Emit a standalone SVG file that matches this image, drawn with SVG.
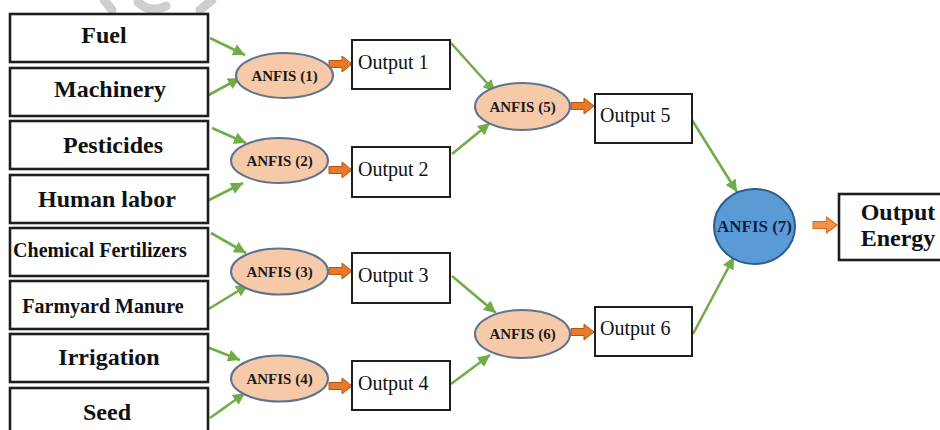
<svg xmlns="http://www.w3.org/2000/svg" width="940" height="430" viewBox="0 0 940 430">
<style>
.in{fill:#fff;stroke:#1e1e1e;stroke-width:2.6}
.ob{fill:#fff;stroke:#1e1e1e;stroke-width:2}
.big{font-family:"Liberation Serif",serif;font-weight:bold;font-size:24px;fill:#111;text-anchor:middle}
.mid{font-family:"Liberation Serif",serif;font-weight:bold;font-size:20px;fill:#111;text-anchor:middle}
.otx{font-family:"Liberation Serif",serif;font-size:20px;fill:#111}
.an{fill:#f6c9a8;stroke:#5d7391;stroke-width:2}
.anl{font-family:"Liberation Serif",serif;font-weight:bold;font-size:15px;fill:#1a1a1a;text-anchor:middle}
.g{stroke:#70ad47;stroke-width:2.6;fill:none;marker-end:url(#ga)}
.oa{fill:#e8782a;stroke:#b4540e;stroke-width:1}
.oa2{fill:#f0924a;stroke:#d86a1c;stroke-width:1}
.wm{fill:none;stroke:#cfcfcf;stroke-width:9;stroke-linecap:round}
</style>
<defs>
<marker id="ga" markerUnits="userSpaceOnUse" markerWidth="14" markerHeight="12" refX="12" refY="6" orient="auto">
<path d="M0,0 L12,6 L0,12 Z" fill="#70ad47"/>
</marker>
<path id="blk" d="M0,-3.5 H13 V-8 L23,0 L13,8 V3.5 H0 Z"/>
</defs>
<rect width="940" height="430" fill="#fff"/>
<g id="watermark">
<path class="wm" d="M104,0 L112,10"/>
<path class="wm" d="M138,2 Q150,14 166,6"/>
<path class="wm" d="M200,10 L212,0"/>
</g>
<g id="connectors">
<path class="g" d="M210,38 L245,55"/>
<path class="g" d="M205,97 L240,78"/>
<path class="g" d="M212,128 L246,143"/>
<path class="g" d="M207,201 L243,183"/>
<path class="g" d="M211,233 L246,253"/>
<path class="g" d="M207,310 L248,285"/>
<path class="g" d="M207,347 L240,360"/>
<path class="g" d="M210,418 L245,393"/>
<path class="g" d="M451,43 L495,92"/>
<path class="g" d="M452,154 L490,123"/>
<path class="g" d="M452,276 L496,313"/>
<path class="g" d="M451,384 L490,355"/>
<path class="g" d="M692,120 L737,192"/>
<path class="g" d="M693,334 L734,257"/>
<use href="#blk" class="oa" transform="translate(329,64)"/>
<use href="#blk" class="oa" transform="translate(329,170)"/>
<use href="#blk" class="oa" transform="translate(329,271)"/>
<use href="#blk" class="oa" transform="translate(329,386)"/>
<use href="#blk" class="oa" transform="translate(571,106)"/>
<use href="#blk" class="oa" transform="translate(571,332)"/>
<use href="#blk" class="oa2" transform="translate(813,225) scale(1.05,1)"/>
</g>
<g id="fuel"><rect class="in" x="10" y="14" width="198" height="48"/><text class="big" x="104" y="43">Fuel</text></g>
<g id="machinery"><rect class="in" x="10" y="68" width="198" height="48"/><text class="big" x="110" y="97">Machinery</text></g>
<g id="pesticides"><rect class="in" x="10" y="121" width="198" height="48"/><text class="big" x="113" y="153">Pesticides</text></g>
<g id="human-labor"><rect class="in" x="10" y="175" width="198" height="48"/><text class="big" x="107" y="207">Human labor</text></g>
<g id="chemical-fertilizers"><rect class="in" x="10" y="228" width="198" height="48"/><text class="mid" x="100" y="257">Chemical Fertilizers</text></g>
<g id="farmyard-manure"><rect class="in" x="10" y="281" width="198" height="48"/><text class="mid" x="103" y="313">Farmyard Manure</text></g>
<g id="irrigation"><rect class="in" x="10" y="334" width="198" height="48"/><text class="big" x="109" y="365">Irrigation</text></g>
<g id="seed"><rect class="in" x="10" y="388" width="198" height="48"/><text class="big" x="107" y="420">Seed</text></g>
<g id="anfis1"><ellipse class="an" cx="284.5" cy="75.5" rx="48.5" ry="22.5"/><text class="anl" x="284.5" y="80.5">ANFIS (1)</text></g>
<g id="anfis2"><ellipse class="an" cx="279.5" cy="160.5" rx="48.5" ry="22.5"/><text class="anl" x="279.5" y="165.5">ANFIS (2)</text></g>
<g id="anfis3"><ellipse class="an" cx="279.5" cy="271.5" rx="48.5" ry="23"/><text class="anl" x="279.5" y="276.5">ANFIS (3)</text></g>
<g id="anfis4"><ellipse class="an" cx="279.5" cy="378.5" rx="48.5" ry="23"/><text class="anl" x="279.5" y="383.5">ANFIS (4)</text></g>
<g id="output1"><rect class="ob" x="352" y="40" width="98" height="49"/><text class="otx" x="358" y="69">Output 1</text></g>
<g id="output2"><rect class="ob" x="352" y="147" width="98" height="50"/><text class="otx" x="358" y="176">Output 2</text></g>
<g id="output3"><rect class="ob" x="352" y="253" width="98" height="50"/><text class="otx" x="358" y="282">Output 3</text></g>
<g id="output4"><rect class="ob" x="352" y="361" width="98" height="49"/><text class="otx" x="358" y="390">Output 4</text></g>
<g id="anfis5"><ellipse class="an" cx="522.5" cy="106.5" rx="47.5" ry="23.5"/><text class="anl" x="522.5" y="111.5">ANFIS (5)</text></g>
<g id="anfis6"><ellipse class="an" cx="522.5" cy="334" rx="47.5" ry="24"/><text class="anl" x="522.5" y="339">ANFIS (6)</text></g>
<g id="output5"><rect class="ob" x="595" y="94" width="97" height="49"/><text class="otx" x="600" y="122">Output 5</text></g>
<g id="output6"><rect class="ob" x="595" y="307" width="97" height="49"/><text class="otx" x="600" y="335">Output 6</text></g>
<g id="anfis7"><ellipse cx="754.5" cy="226.5" rx="40.5" ry="37.5" fill="#5b9bd5" stroke="#2e5a8e" stroke-width="2"/><text x="754.5" y="232" font-family="Liberation Serif, serif" font-weight="bold" font-size="17" fill="#0f1f4a" text-anchor="middle">ANFIS (7)</text></g>
<g id="output-energy"><rect class="in" x="839" y="194" width="110" height="66"/><text class="big" x="898" y="220">Output</text><text class="big" x="898" y="246">Energy</text></g>
</svg>
